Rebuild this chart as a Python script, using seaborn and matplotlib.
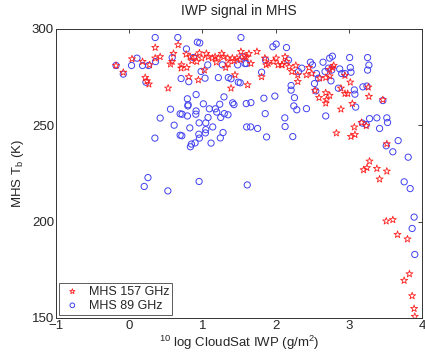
import seaborn as sns
import pandas as pd
import numpy as np
import matplotlib
matplotlib.use("Agg")
import matplotlib.pyplot as plt

# MHS 89 GHz (blue circles): log10 IWP, Tb
iwp_89 = [0.354, 0.663, -0.181, -0.082, 0.031, 0.105, 0.181, 0.263, 0.358, 0.586,
          0.781, 0.708, 0.813, 0.228, 0.794, 0.804, 0.876, 0.93, 0.563, 0.422,
          0.613, 0.35, 0.255, 0.204, 0.527, 0.695, 0.695, 1.012, 1.236, 1.294,
          1.413, 1.43, 1.598, 1.662, 1.839, 1.989, 2.257, 2.248, 2.289, 0.722,
          0.8, 0.794, 0.913, 0.909, 1.094, 1.176, 1.195, 1.076, 1.249, 1.298,
          1.349, 1.857, 2.125, 0.827, 0.954, 1.045, 1.14, 1.045, 1.04, 1.281,
          1.244, 1.604, 1.658, 1.753, 2.129, 1.876, 2.234, 0.718, 0.95, 0.958,
          0.899, 0.849, 0.835, 1.117, 0.954, 1.612, 1.526, 0.963, 1.962, 2.007,
          0.981, 1.072, 1.035, 1.217, 1.353, 1.39, 1.489, 1.516, 1.553, 1.58,
          1.481, 1.6, 1.862, 1.808, 1.271, 2.148, 2.475, 2.503, 2.357, 2.312,
          2.176, 2.211, 2.211, 2.647, 2.738, 2.775, 3.011, 2.721, 2.675, 2.766,
          2.875, 2.902, 2.947, 3.02, 3.029, 2.557, 2.584, 2.53, 2.756, 2.857,
          3.192, 3.247, 2.548, 3.083, 3.256, 3.256, 2.684, 3.283, 3.383, 3.519,
          2.421, 3.075, 3.093, 3.465, 3.274, 3.529, 3.42, 3.184, 3.238, 3.511,
          3.674, 3.601, 3.811, 3.756, 3.838, 3.892, 3.865, 3.901, 0.913]
tb_89 = [295.5, 295.5, 281.0, 276.5, 281.0, 284.8, 281.0, 281.0, 283.0, 285.1,
         289.6, 274.2, 272.6, 272.3, 263.7, 260.6, 285.1, 293.1, 258.3, 253.7,
         250.0, 243.3, 222.8, 218.2, 215.9, 244.8, 255.9, 261.1, 260.9, 264.7,
         261.6, 260.7, 261.2, 261.7, 264.0, 265.1, 264.3, 260.0, 258.0, 255.7,
         260.0, 254.8, 257.4, 255.7, 258.5, 258.5, 256.8, 254.0, 254.0, 256.0,
         255.4, 256.0, 253.8, 248.6, 251.2, 251.2, 249.1, 247.7, 246.0, 246.2,
         243.4, 249.1, 249.1, 248.3, 249.3, 243.9, 244.1, 244.5, 245.3, 243.3,
         240.8, 240.2, 238.8, 240.7, 220.8, 219.0, 295.5, 292.7, 290.7, 292.1,
         277.9, 281.3, 274.4, 274.7, 274.7, 274.1, 272.3, 272.0, 285.5, 282.0,
         281.3, 282.0, 283.8, 277.5, 281.3, 290.3, 282.7, 281.3, 279.6, 277.8,
         283.8, 270.6, 268.2, 282.7, 284.8, 285.8, 285.1, 279.6, 277.8, 278.6,
         279.2, 276.8, 276.8, 279.9, 277.5, 276.8, 274.4, 271.6, 273.0, 269.2,
         269.9, 270.3, 267.8, 266.1, 285.1, 278.6, 254.8, 253.4, 253.8, 253.8,
         258.6, 268.3, 259.4, 262.8, 281.2, 251.4, 248.3, 251.1, 250.3, 239.3,
         242.0, 236.2, 233.4, 220.6, 217.1, 202.3, 196.4, 182.9, 265.9]

# MHS 157 GHz (red stars)
iwp_157 = [-0.181, 0.354, 0.668, 0.037, 0.181, 0.354, 0.422, 0.277, -0.082, 0.218,
           0.241, 0.268, 0.531, 0.563, 0.586, 0.604, 0.713, 0.708, 0.786, 0.813,
           0.831, 0.854, 0.777, 0.903, 0.922, 0.958, 0.944, 0.99, 1.053, 1.08,
           1.135, 1.172, 1.217, 1.263, 1.29, 1.345, 1.408, 1.471, 1.526, 1.58,
           1.635, 1.662, 1.744, 1.853, 1.871, 1.898, 1.971, 2.007, 2.034, 2.089,
           1.026, 1.317, 1.353, 1.19, 1.39, 1.444, 1.617, 1.808, 1.435, 1.516,
           1.598, 2.129, 2.148, 2.275, 2.221, 2.302, 2.421, 2.456, 2.493, 2.602,
           2.684, 2.738, 2.775, 2.793, 2.738, 2.302, 2.947, 3.02, 2.892, 2.947,
           2.984, 2.684, 2.738, 2.593, 3.048, 2.084, 2.184, 3.274, 3.266, 3.465,
           2.892, 2.684, 2.693, 2.538, 2.83, 3.075, 3.174, 3.238, 3.083, 3.029,
           3.519, 3.283, 3.247, 3.202, 3.383, 3.519, 3.42, 3.511, 3.601, 3.665,
           3.801, 3.828, 3.756, 3.865, 3.892, 3.901]
tb_157 = [281.0, 290.3, 291.7, 284.4, 283.0, 284.8, 285.5, 281.3, 277.4, 274.7,
          273.0, 271.3, 269.2, 281.7, 283.0, 287.2, 281.3, 279.6, 279.9, 275.1,
          285.6, 283.4, 286.8, 285.5, 283.0, 287.5, 273.5, 284.8, 287.2, 285.5,
          284.8, 285.5, 284.8, 287.2, 285.5, 284.8, 284.8, 284.8, 288.2, 285.8,
          287.2, 282.0, 288.2, 284.8, 281.3, 282.0, 283.0, 284.8, 281.3, 281.3,
          278.6, 279.9, 281.7, 282.7, 269.2, 276.1, 270.9, 275.1, 283.4, 284.1,
          285.1, 285.5, 283.0, 281.0, 277.8, 276.1, 276.1, 279.9, 276.8, 274.4,
          274.7, 275.5, 279.9, 281.0, 278.9, 272.6, 275.8, 272.3, 269.2, 266.4,
          266.4, 266.8, 265.4, 264.3, 261.2, 281.3, 280.3, 264.9, 269.7, 263.2,
          258.3, 261.4, 263.2, 268.0, 245.9, 249.0, 251.4, 249.7, 245.1, 244.1,
          240.3, 231.3, 227.9, 226.8, 227.5, 226.1, 222.0, 200.2, 200.9, 193.2,
          190.9, 172.8, 169.4, 161.4, 154.8, 150.7]

df89 = pd.DataFrame({"iwp": iwp_89, "tb": tb_89})
df157 = pd.DataFrame({"iwp": iwp_157, "tb": tb_157})

sns.set_style("white")
plt.rcParams["font.family"] = ["Liberation Sans", "DejaVu Sans"]
plt.rcParams["mathtext.fontset"] = "custom"
plt.rcParams["mathtext.rm"] = "Liberation Sans"
plt.rcParams["mathtext.it"] = "Liberation Sans:italic"

fig, ax = plt.subplots(figsize=(4.25, 3.52), dpi=100)
fig.subplots_adjust(left=0.132, right=0.993, top=0.918, bottom=0.097)

sns.scatterplot(data=df89, x="iwp", y="tb", ax=ax, marker="o", s=20,
                facecolor="none", edgecolor="#4040f0", linewidth=0.7,
                label="MHS 89 GHz")
sns.scatterplot(data=df157, x="iwp", y="tb", ax=ax, marker="*", s=28,
                facecolor="none", edgecolor="#ff2020", linewidth=0.6,
                label="MHS 157 GHz")

ax.set_xlim(-1, 4)
ax.set_ylim(150, 300)
ax.set_xticks([-1, 0, 1, 2, 3, 4])
ax.set_yticks([150, 200, 250, 300])
ax.tick_params(direction="in", length=3, width=0.6, labelsize=9.5,
               top=True, right=True, pad=1.5)
for sp in ax.spines.values():
    sp.set_color("#333333")
    sp.set_linewidth(0.7)

ax.set_title("IWP signal in MHS", fontsize=10, pad=10)
ax.set_xlabel(r"$^{10}$ log CloudSat IWP (g/m$^2$)", fontsize=9.5, labelpad=1)
ax.set_ylabel(r"MHS T$_\mathrm{b}$ (K)", fontsize=9.5, labelpad=4)

handles, labels = ax.get_legend_handles_labels()
order = [labels.index("MHS 157 GHz"), labels.index("MHS 89 GHz")]
leg = ax.legend([handles[i] for i in order], [labels[i] for i in order],
                loc="lower left", fontsize=9, frameon=True, fancybox=False,
                borderaxespad=0.25, handletextpad=0.5, borderpad=0.25,
                labelspacing=0.15, handlelength=1.6, markerscale=0.75)
leg.get_frame().set_edgecolor("#333333")
leg.get_frame().set_linewidth(0.7)

fig.savefig("out.png", dpi=100)
